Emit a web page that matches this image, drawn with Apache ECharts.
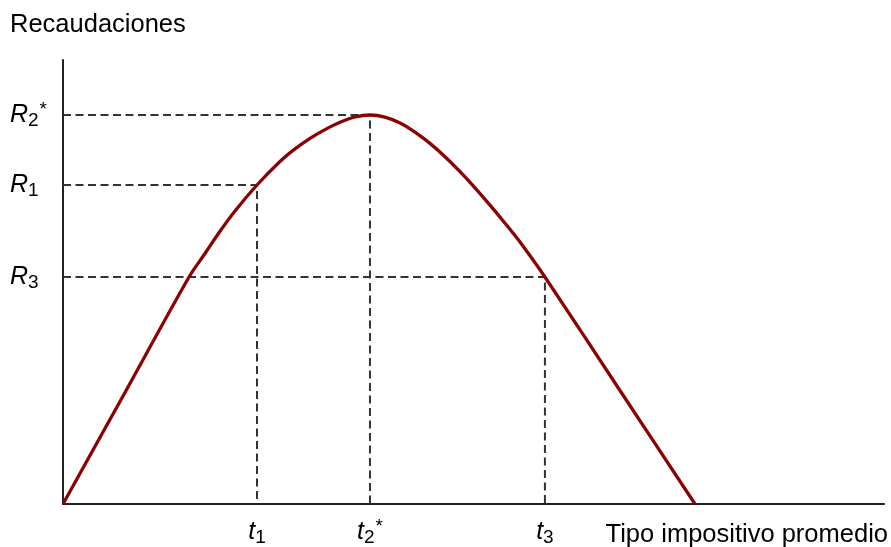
<!DOCTYPE html>
<html>
<head>
<meta charset="utf-8">
<script src="https://cdn.jsdelivr.net/npm/echarts@6/dist/echarts.min.js"></script>
<style>
  html, body { margin: 0; padding: 0; background: #ffffff; }
  #chart { width: 891px; height: 547px; }
</style>
</head>
<body>
<div id="chart"></div>
<script>
// Laffer curve: tax revenue against the average tax rate (both axes run 0..100)
const rateValues    = [0, 7.67, 15.35, 17.30, 19.12, 20.95, 23.63, 26.43, 28.26, 30.09, 31.91, 33.74, 35.57, 37.39,
                       39.22, 41.05, 42.87, 44.70, 46.53, 48.36, 50.18, 52.01, 53.84, 55.66, 58.70, 67.84, 76.98];
const revenueValues = [0, 25.52, 51.13, 56.42, 61.42, 66.01, 71.85, 77.14, 79.98, 82.36, 84.32, 85.97, 87.16, 87.61,
                       87.12, 85.79, 83.78, 81.22, 78.22, 74.84, 71.19, 67.30, 63.24, 59.01, 51.13, 25.56, 0];

// Marked tax rates t1, t2*, t3 and the matching revenues R1, R2*, R3
const markedRates    = [23.63, 37.39, 58.70];
const markedRevenues = [71.85, 87.61, 51.13];
const rateLabels     = ['{i|t}{s|1}', '{i|t}{s|2}{p|*}', '{i|t}{s|3}'];
const revenueLabels  = ['{i|R}{s|1}', '{i|R}{s|2}{p|*}', '{i|R}{s|3}'];

const yAxisTitle = 'Recaudaciones';
const xAxisTitle = 'Tipo impositivo promedio';

const FONT = '"Liberation Sans", Arial, sans-serif';

const richStyles = {
  i: { fontFamily: FONT, fontStyle: 'italic', fontSize: 25, color: '#000', lineHeight: 30, verticalAlign: 'middle' },
  s: { fontFamily: FONT, fontSize: 19, color: '#000', lineHeight: 30, verticalAlign: 'bottom', padding: [12, 0, 0, 0] },
  p: { fontFamily: FONT, fontSize: 19, color: '#000', lineHeight: 30, verticalAlign: 'top', padding: [0, 0, 8, 1] }
};

function labelFor(values, labels) {
  return function (v) {
    for (let k = 0; k < values.length; k++) {
      if (Math.abs(values[k] - v) < 1e-6) return labels[k];
    }
    return '';
  };
}

const curve = rateValues.map((x, k) => [x, revenueValues[k]]);

// dashed guides from each marked point to both axes
const guideSeries = markedRates.map((t, k) => ({
  type: 'line',
  data: [[0, markedRevenues[k]], [t, markedRevenues[k]], [t, 0]],
  symbol: 'none',
  silent: true,
  z: 1,
  lineStyle: { color: '#333333', width: 2, type: [8, 4.5] }
}));

const chart = echarts.init(document.getElementById('chart'), null, { renderer: 'canvas' });

chart.setOption({
  backgroundColor: '#ffffff',
  animation: false,
  title: [
    { text: yAxisTitle, left: 5, top: 7, textStyle: { fontFamily: FONT, fontSize: 25.5, fontWeight: 'normal', color: '#000' } },
    { text: xAxisTitle, right: -2, top: 517, textStyle: { fontFamily: FONT, fontSize: 25.5, fontWeight: 'normal', color: '#000' } }
  ],
  grid: { left: 63, right: 7, top: 60, bottom: 43, containLabel: false },
  xAxis: {
    type: 'value',
    min: 0,
    max: 100,
    axisLine: { show: true, onZero: false, lineStyle: { color: '#222', width: 2 } },
    axisTick: { show: false },
    splitLine: { show: false },
    axisLabel: {
      show: true,
      customValues: markedRates,
      margin: 13,
      formatter: labelFor(markedRates, rateLabels),
      rich: richStyles
    }
  },
  yAxis: {
    type: 'value',
    min: 0,
    max: 100,
    axisLine: { show: true, onZero: false, lineStyle: { color: '#222', width: 2 } },
    axisTick: { show: false },
    splitLine: { show: false },
    axisLabel: {
      show: true,
      customValues: markedRevenues,
      margin: 53,
      align: 'left',
      formatter: labelFor(markedRevenues, revenueLabels),
      rich: richStyles
    }
  },
  series: guideSeries.concat([{
    type: 'line',
    data: curve,
    smooth: 0.3,
    symbol: 'none',
    z: 3,
    lineStyle: { color: '#8b0000', width: 3.3 }
  }])
});
</script>
</body>
</html>
